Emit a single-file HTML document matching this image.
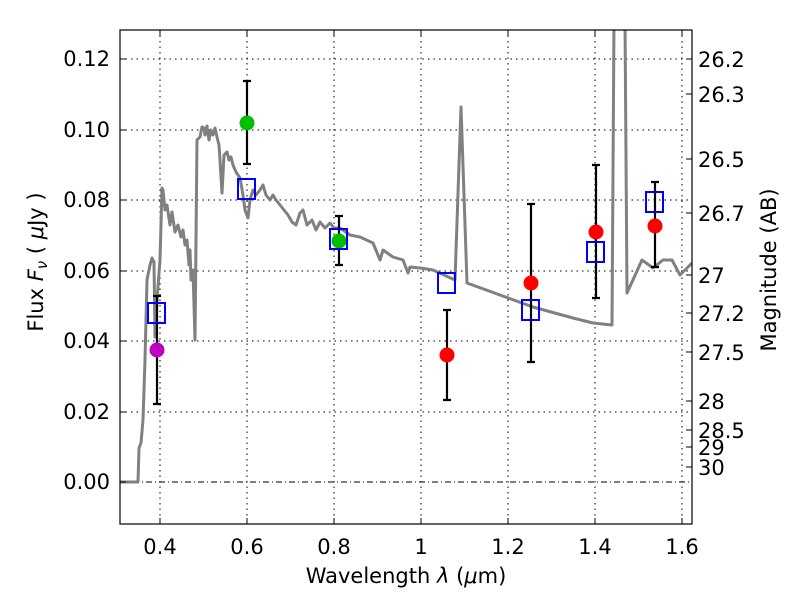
<!DOCTYPE html>
<html><head><meta charset="utf-8"><style>body{margin:0;background:#fff}</style></head><body>
<svg width="800" height="600" xmlns="http://www.w3.org/2000/svg" font-family="DejaVu Sans, Liberation Sans, sans-serif" font-size="21">
<rect width="800" height="600" fill="#fff"/>
<defs><clipPath id="c"><rect x="120" y="30" width="572" height="494"/></clipPath></defs>
<g stroke="#000" stroke-width="1" stroke-dasharray="1.5,4">
<line x1="160" y1="30" x2="160" y2="524"/><line x1="247" y1="30" x2="247" y2="524"/><line x1="334" y1="30" x2="334" y2="524"/><line x1="421" y1="30" x2="421" y2="524"/><line x1="508" y1="30" x2="508" y2="524"/><line x1="595" y1="30" x2="595" y2="524"/><line x1="682" y1="30" x2="682" y2="524"/>
<line x1="120" y1="59" x2="692" y2="59"/><line x1="120" y1="130" x2="692" y2="130"/><line x1="120" y1="200" x2="692" y2="200"/><line x1="120" y1="271" x2="692" y2="271"/><line x1="120" y1="341" x2="692" y2="341"/><line x1="120" y1="412" x2="692" y2="412"/>
</g>
<line x1="120" y1="482" x2="692" y2="482" stroke="#000" stroke-width="1" stroke-dasharray="6,3,1,3"/>
<g clip-path="url(#c)">
<polyline fill="none" stroke="#808080" stroke-width="3" stroke-linejoin="round" points="120,482 138,482 139,448 141,443 143,420 145,360 147,280 148,275 150,265 152,258 154,262 155,337 157,300 160,260 162,188 163,190 165,210 167,205 170,225 172,212 175,232 178,225 181,237 183,230 185,245 187,240 189,265 190,250 191,280 193,270 195,340 197,140 200,137 202,127 204,128 205,135 207,126 209,140 211,130 213,135 215,128 217,137 219,145 220,160 222,193 224,155 227,152 229,160 231,157 233,165 236,172 240,178 243,195 245,210 248,218 250,200 253,190 256,195 260,190 263,185 266,195 270,200 273,195 276,200 280,205 284,210 288,215 292,222 296,225 300,213 303,210 307,225 312,220 316,230 320,222 325,228 330,223 334,228 340,228 350,235 360,237 373,243 380,260 383,250 393,257 403,260 408,273 410,267 420,268 433,270 455,280 461,107 467,283 500,295 533,307 573,318 593,323 612,325 614,20 625,20 627,293 642,260 653,268 663,260 672,260 680,275 690,265 692,263"/>
</g>
<g stroke="#000" stroke-width="2.2" fill="none">
<path d="M157,296V404M153,296h8M153,404h8"/>
<path d="M247,81V164M243,81h8M243,164h8"/>
<path d="M339,216V265M335,216h8M335,265h8"/>
<path d="M447,310V400M443,310h8M443,400h8"/>
<path d="M531,204V362M527,204h8M527,362h8"/>
<path d="M596,165V298M592,165h8M592,298h8"/>
<path d="M655,182V267M651,182h8M651,267h8"/>
</g>
<circle cx="157" cy="350" r="7.5" fill="#bf00bf"/>
<circle cx="247" cy="123" r="7.5" fill="#00bf00"/>
<circle cx="339" cy="241" r="7.5" fill="#00bf00"/>
<circle cx="447" cy="355" r="7.5" fill="#f00"/>
<circle cx="531" cy="283" r="7.5" fill="#f00"/>
<circle cx="596" cy="232" r="7.5" fill="#f00"/>
<circle cx="655" cy="226" r="7.5" fill="#f00"/>
<g fill="none" stroke="#00f" stroke-width="2">
<rect x="148" y="303" width="17" height="20"/>
<rect x="238" y="179" width="17" height="20"/>
<rect x="330" y="229" width="17" height="20"/>
<rect x="438" y="273" width="17" height="20"/>
<rect x="522" y="300" width="17" height="20"/>
<rect x="587" y="242" width="17" height="20"/>
<rect x="646" y="192" width="17" height="20"/>
</g>
<rect x="120" y="30" width="572" height="494" fill="none" stroke="#000" stroke-width="1.2"/>
<g stroke="#000" stroke-width="1">
<path d="M160,524v-6M247,524v-6M334,524v-6M421,524v-6M508,524v-6M595,524v-6M682,524v-6M160,30v6M247,30v6M334,30v6M421,30v6M508,30v6M595,30v6M682,30v6"/>
<path d="M120,59h6M120,130h6M120,200h6M120,271h6M120,341h6M120,412h6M120,482h6"/>
<path d="M692,59h-6M692,94h-6M692,159h-6M692,213h-6M692,275h-6M692,313h-6M692,352h-6M692,401h-6M692,430h-6M692,447h-6M692,467h-6"/>
</g>
<g text-anchor="end">
<text x="110" y="66">0.12</text><text x="110" y="137">0.10</text><text x="110" y="207">0.08</text><text x="110" y="278">0.06</text><text x="110" y="348">0.04</text><text x="110" y="419">0.02</text><text x="110" y="489">0.00</text>
</g>
<g text-anchor="middle">
<text x="160" y="554">0.4</text><text x="247" y="554">0.6</text><text x="334" y="554">0.8</text><text x="421" y="554">1</text><text x="508" y="554">1.2</text><text x="595" y="554">1.4</text><text x="682" y="554">1.6</text>
<text x="406" y="583">Wavelength  <tspan font-style="italic">λ</tspan> (<tspan font-style="italic">μ</tspan>m)</text>
</g>
<g>
<text x="698" y="67">26.2</text><text x="698" y="102">26.3</text><text x="698" y="167">26.5</text><text x="698" y="221">26.7</text><text x="698" y="283">27</text><text x="698" y="321">27.2</text><text x="698" y="360">27.5</text><text x="698" y="409">28</text><text x="698" y="438">28.5</text><text x="698" y="455">29</text><text x="698" y="475">30</text>
</g>
<text transform="translate(43,262) rotate(-90)" text-anchor="middle">Flux  <tspan font-style="italic">F</tspan><tspan font-style="italic" font-size="15" dy="4">ν</tspan><tspan dy="-4">  ( </tspan><tspan font-style="italic">μ</tspan>Jy )</text>
<text transform="translate(776,270) rotate(-90)" text-anchor="middle">Magnitude (AB)</text>
</svg>
</body></html>
